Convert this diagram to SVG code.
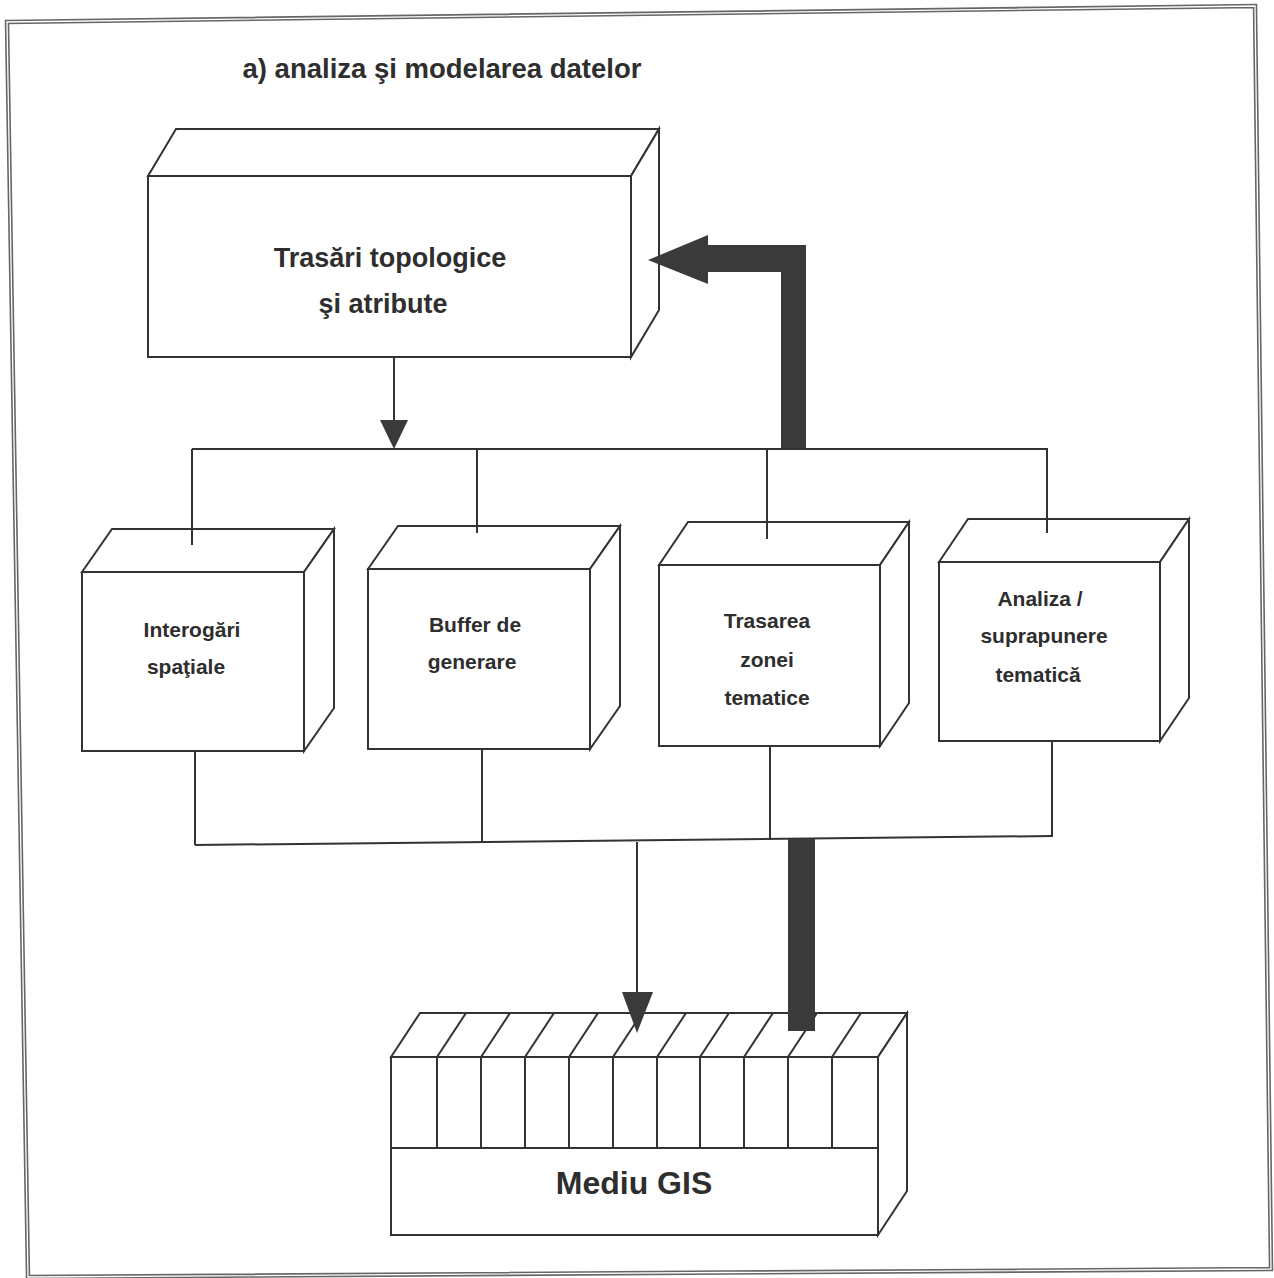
<svg xmlns="http://www.w3.org/2000/svg" width="1274" height="1278" viewBox="0 0 1274 1278">
  <style>
    .edge { fill: none; stroke: #333; stroke-width: 2; stroke-linejoin: miter; }
    .face { fill: #fff; stroke: #333; stroke-width: 2; stroke-linejoin: miter; }
    .lbl { font-family: "Liberation Sans", Arial, sans-serif; font-weight: bold; fill: #2e2e2e; text-anchor: middle; }
    .small { font-size: 21px; }
    .thick { fill: #3a3a3a; stroke: none; }
    .head { fill: #3a3a3a; stroke: none; }
  </style>

  <rect width="1274" height="1278" fill="#fff"/>

  <!-- double page frame -->
  <g id="frame">
    <polygon points="7,22 1255,6 1271,1269 28,1277" fill="none" stroke="#666" stroke-width="4.5"/>
    <polygon points="7,22 1255,6 1271,1269 28,1277" fill="none" stroke="#fff" stroke-width="1.3"/>
  </g>

  <text id="title" class="lbl" x="442" y="78" font-size="27.5">a) analiza şi modelarea datelor</text>

  <!-- top block -->
  <g id="node-trasari">
    <polygon class="face" points="148,176 176,129 659,129 631,176"/>
    <polygon class="face" points="631,176 659,129 659,310 631,357"/>
    <rect class="face" x="148" y="176" width="483" height="181"/>
    <text class="lbl" x="390" y="267" font-size="27">Trasări topologice</text>
    <text class="lbl" x="383" y="313" font-size="27">şi atribute</text>
  </g>

  <!-- operation blocks -->
  <g id="node-interogari">
    <polygon class="face" points="82,572 112,529 334,529 304,572"/>
    <polygon class="face" points="304,572 334,529 334,708 304,751"/>
    <rect class="face" x="82" y="572" width="222" height="179"/>
    <text class="lbl small" x="192" y="637">Interogări</text>
    <text class="lbl small" x="186" y="674">spaţiale</text>
  </g>

  <g id="node-buffer">
    <polygon class="face" points="368,569 398,526 620,526 590,569"/>
    <polygon class="face" points="590,569 620,526 620,706 590,749"/>
    <rect class="face" x="368" y="569" width="222" height="180"/>
    <text class="lbl small" x="475" y="632">Buffer de</text>
    <text class="lbl small" x="472" y="669">generare</text>
  </g>

  <g id="node-trasarea">
    <polygon class="face" points="659,565 688,522 909,522 880,565"/>
    <polygon class="face" points="880,565 909,522 909,703 880,746"/>
    <rect class="face" x="659" y="565" width="221" height="181"/>
    <text class="lbl small" x="767" y="628">Trasarea</text>
    <text class="lbl small" x="767" y="667">zonei</text>
    <text class="lbl small" x="767" y="705">tematice</text>
  </g>

  <g id="node-analiza">
    <polygon class="face" points="939,562 968,519 1189,519 1160,562"/>
    <polygon class="face" points="1160,562 1189,519 1189,698 1160,741"/>
    <rect class="face" x="939" y="562" width="221" height="179"/>
    <text class="lbl small" x="1040" y="606">Analiza /</text>
    <text class="lbl small" x="1044" y="643">suprapunere</text>
    <text class="lbl small" x="1038" y="682">tematică</text>
  </g>

  <!-- GIS store: row of slots on a base -->
  <g id="node-gis">
    <polygon class="face" points="391,1057 420,1013 907,1013 878,1057"/>
    <polygon class="face" points="878,1057 907,1013 907,1191 878,1235"/>
    <rect class="face" x="391" y="1057" width="487" height="178"/>
    <line class="edge" x1="391" y1="1148" x2="878" y2="1148"/>
    <path class="edge" d="M437,1057V1148 M481,1057V1148 M525,1057V1148 M569,1057V1148 M613,1057V1148 M657,1057V1148 M700,1057V1148 M744,1057V1148 M788,1057V1148 M832,1057V1148"/>
    <path class="edge" d="M437,1057l29,-44 M481,1057l29,-44 M525,1057l29,-44 M569,1057l29,-44 M613,1057l29,-44 M657,1057l29,-44 M700,1057l29,-44 M744,1057l29,-44 M788,1057l29,-44 M832,1057l29,-44"/>
    <text class="lbl" x="634" y="1194" font-size="32">Mediu GIS</text>
  </g>

  <!-- connectors -->
  <g id="connectors">
    <!-- top block down to the distribution bus -->
    <line class="edge" x1="394" y1="357" x2="394" y2="424"/>
    <polygon class="head" points="380,420 408,420 394,449"/>
    <line class="edge" x1="192" y1="449" x2="1048" y2="449"/>
    <line class="edge" x1="192" y1="449" x2="192" y2="545"/>
    <line class="edge" x1="477" y1="449" x2="477" y2="533"/>
    <line class="edge" x1="767" y1="449" x2="767" y2="539"/>
    <line class="edge" x1="1047" y1="449" x2="1047" y2="533"/>

    <!-- collecting bus under the operation blocks -->
    <line class="edge" x1="195" y1="751" x2="195" y2="845"/>
    <line class="edge" x1="482" y1="749" x2="482" y2="843"/>
    <line class="edge" x1="770" y1="746" x2="770" y2="840"/>
    <line class="edge" x1="1052" y1="741" x2="1052" y2="837"/>
    <line class="edge" x1="195" y1="845" x2="1052" y2="836"/>

    <!-- down into the GIS store -->
    <line class="edge" x1="637" y1="842" x2="637" y2="996"/>
    <polygon class="head" points="622,992 653,992 637,1033"/>

    <!-- thick feedback path: GIS store back up to the top block -->
    <rect class="thick" x="788" y="839" width="27" height="192"/>
    <polygon class="thick" points="781,448 781,272 708,272 708,284 648,260 708,235 708,245 806,245 806,448"/>
  </g>
</svg>
